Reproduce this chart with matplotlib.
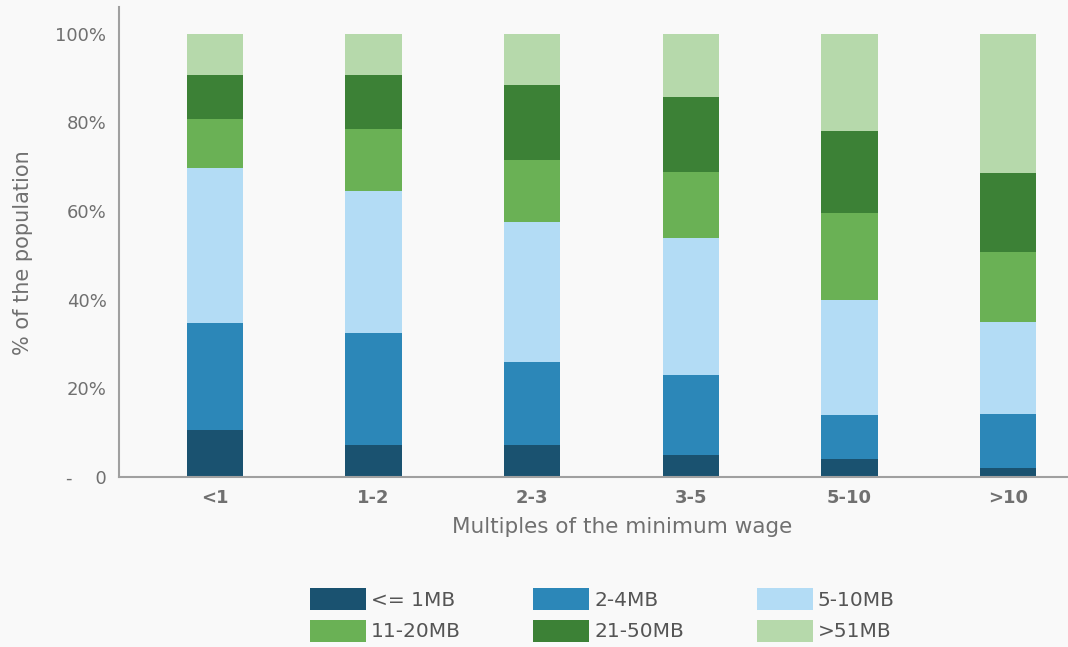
import numpy as np
import matplotlib.pyplot as plt

# Share of the population by size band, for each minimum-wage multiple
wage_groups = ["<1", "1-2", "2-3", "3-5", "5-10", ">10"]
size_bands = ["<= 1MB", "2-4MB", "5-10MB", "11-20MB", "21-50MB", ">51MB"]

share_1mb   = [10.6, 7.2, 7.2, 5.0, 4.1, 2.0]
share_2_4   = [24.2, 25.3, 18.8, 18.0, 9.9, 12.2]
share_5_10  = [35.0, 32.1, 31.6, 31.0, 26.0, 20.8]
share_11_20 = [11.0, 14.0, 14.0, 14.8, 19.6, 15.8]
share_21_50 = [9.9, 12.1, 16.9, 17.0, 18.5, 17.8]
share_51    = [9.3, 9.3, 11.5, 14.2, 21.9, 31.4]

colors = ["#1a5270", "#2c87b8", "#b3dcf5", "#6ab155", "#3c8136", "#b6d9ab"]
y_ticks = [0, 20, 40, 60, 80, 100]
y_tick_labels = ["-    0", "20%", "40%", "60%", "80%", "100%"]

plt.rcParams["font.family"] = ["DejaVu Sans"]
text_color = "#707070"
bg = "#f9f9f9"

fig = plt.figure(figsize=(10.68, 6.47), dpi=100, facecolor=bg)
ax = fig.add_axes([0.1114, 0.2628, 0.8886, 0.7262], facecolor=bg)

x = np.arange(len(wage_groups))
series = [share_1mb, share_2_4, share_5_10, share_11_20, share_21_50, share_51]
bottom = np.zeros(len(wage_groups))
handles = []
for vals, col, name in zip(series, colors, size_bands):
    h = ax.bar(x, vals, width=0.355, bottom=bottom, color=col, label=name, zorder=2)
    handles.append(h)
    bottom += np.array(vals)

ax.set_xlim(-0.605, 5.378)
ax.set_ylim(0, 106)

for side in ["top", "right"]:
    ax.spines[side].set_visible(False)
for side in ["left", "bottom"]:
    ax.spines[side].set_color("#a0a0a0")
    ax.spines[side].set_linewidth(1.5)

ax.set_xticks(x)
ax.set_xticklabels(wage_groups, fontsize=13, fontweight="bold", color=text_color)
ax.set_yticks(y_ticks)
ax.set_yticklabels(y_tick_labels, fontsize=13, color=text_color)
ax.tick_params(axis="both", length=0)
ax.tick_params(axis="x", pad=9)
ax.tick_params(axis="y", pad=9)

ax.set_xlabel("Multiples of the minimum wage", fontsize=15.5, color=text_color, labelpad=7)
ax.set_ylabel("% of the population", fontsize=15, color=text_color, labelpad=16)
ax.xaxis.label.set_x(0.53)
ax.yaxis.label.set_y(0.477)

# legend laid out row by row: matplotlib fills columns first
order = [0, 3, 1, 4, 2, 5]
leg = fig.legend([handles[i] for i in order], [size_bands[i] for i in order],
                 loc="center", bbox_to_anchor=(0.564, 0.0495), ncol=3,
                 frameon=False, fontsize=14.5, handlelength=2.78, handleheight=1.31,
                 handletextpad=0.25, columnspacing=3.6, labelspacing=0.45)
for t in leg.get_texts():
    t.set_color("#555555")

fig.savefig("out.png", dpi=100, facecolor=bg)
